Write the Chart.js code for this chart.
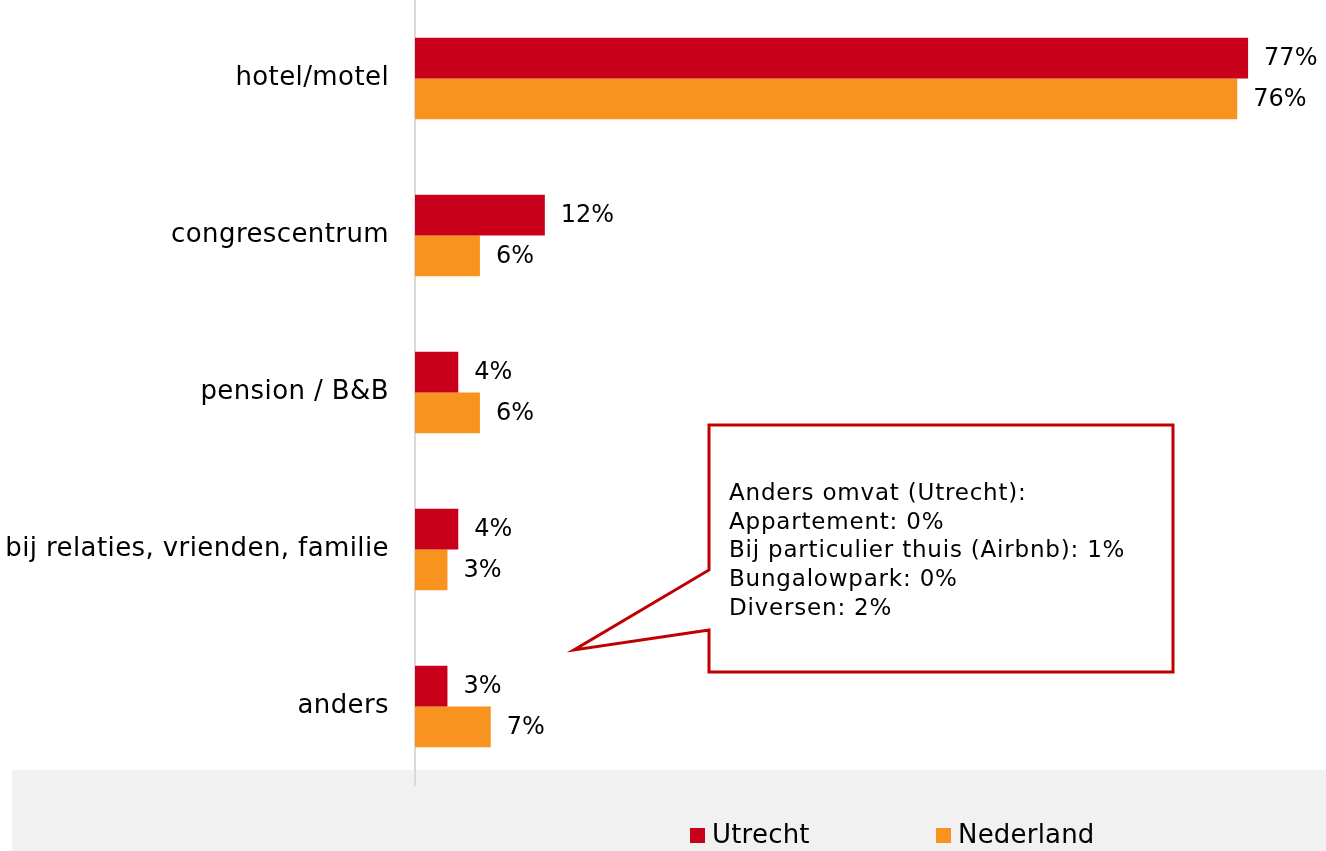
<!DOCTYPE html>
<html>
<head>
<meta charset="utf-8">
<script src="https://cdn.jsdelivr.net/npm/chart.js@4"></script>
<style>
  html, body { margin: 0; padding: 0; background: #fff; }
  #wrap { width: 1326px; height: 851px; }
</style>
</head>
<body>
<div id="wrap"><canvas id="verblijfChart" width="1326" height="851"></canvas></div>
<script>
// Categorieën en waarden (%)
const categories = ['hotel/motel', 'congrescentrum', 'pension / B&B', 'bij relaties, vrienden, familie', 'anders'];
const utrecht = [77, 12, 4, 4, 3];
const nederland = [76, 6, 6, 3, 7];
const seriesNames = ['Utrecht', 'Nederland'];
const calloutLines = [
    'Anders omvat (Utrecht):',
    'Appartement: 0%',
    'Bij particulier thuis (Airbnb): 1%',
    'Bungalowpark: 0%',
    'Diversen: 2%'
];

const FONT = '"DejaVu Sans", Verdana, sans-serif';
const RED = '#C8001A';
const ORANGE = '#F7931E';

// Grijze legenda-balk onderaan, achter de as
const backgroundPlugin = {
    id: 'bgLegend',
    beforeDraw(chart) {
        const ctx = chart.ctx;
        ctx.save();
        ctx.fillStyle = '#F1F1F1';
        ctx.fillRect(12, 770, chart.width - 12, chart.height - 770);
        ctx.restore();
        ctx.letterSpacing = '0.4px'; // iets bredere tekst (lijkt meer op Verdana)
    },
    afterDraw(chart) {
        const ctx = chart.ctx;
        ctx.save();
        ctx.font = '26px ' + FONT;
        ctx.letterSpacing = '0.2px';
        ctx.textBaseline = 'middle';
        const items = [{x: 690, c: RED}, {x: 936, c: ORANGE}];
        items.forEach((it, i) => {
            ctx.fillStyle = it.c;
            ctx.fillRect(it.x, 828, 15, 15);
            ctx.fillStyle = '#000';
            ctx.fillText(seriesNames[i], it.x + 22, 836);
        });
        ctx.restore();
    }
};

// Percentages naast de balken
const labelPlugin = {
    id: 'barLabels',
    afterDatasetsDraw(chart) {
        const ctx = chart.ctx;
        ctx.save();
        ctx.font = '24px ' + FONT;
        ctx.letterSpacing = '0px';
        ctx.fillStyle = '#000';
        ctx.textBaseline = 'middle';
        ctx.textAlign = 'left';
        chart.data.datasets.forEach((ds, di) => {
            chart.getDatasetMeta(di).data.forEach((bar, i) => {
                ctx.fillText(ds.data[i] + '%', bar.x + 16, bar.y + 1);
            });
        });
        ctx.restore();
    }
};

// Tekstballon bij "anders"
const calloutPlugin = {
    id: 'callout',
    afterDraw(chart) {
        const ctx = chart.ctx;
        ctx.save();
        ctx.strokeStyle = '#C00000';
        ctx.lineWidth = 3;
        ctx.fillStyle = '#fff';
        ctx.beginPath();
        ctx.moveTo(709, 425);
        ctx.lineTo(1173, 425);
        ctx.lineTo(1173, 672);
        ctx.lineTo(709, 672);
        ctx.lineTo(709, 630);
        ctx.lineTo(574, 650);
        ctx.lineTo(709, 570);
        ctx.closePath();
        ctx.fill();
        ctx.stroke();
        ctx.fillStyle = '#000';
        ctx.font = '23px ' + FONT;
        ctx.letterSpacing = '0.8px';
        ctx.textBaseline = 'middle';
        calloutLines.forEach((t, i) => ctx.fillText(t, 729, 494 + i * 28.7));
        ctx.restore();
    }
};

const ctxVerblijf = document.getElementById('verblijfChart').getContext('2d');

const verblijfChart = new Chart(ctxVerblijf, {
    type: 'bar',
    data: {
        labels: categories,
        datasets: [
            { label: seriesNames[0], data: utrecht, backgroundColor: RED },
            { label: seriesNames[1], data: nederland, backgroundColor: ORANGE }
        ]
    },
    options: {
        indexAxis: 'y',
        responsive: false,
        animation: false,
        devicePixelRatio: 1,
        layout: { padding: { top: 0, right: 0, bottom: 66, left: 0 } },
        datasets: {
            bar: { categoryPercentage: 0.52, barPercentage: 1 }
        },
        scales: {
            x: {
                min: 0,
                max: 84.2,
                display: false,
                grid: { display: false }
            },
            y: {
                grid: { display: false, drawTicks: false },
                border: { display: true, color: '#D9D9D9', width: 2 },
                ticks: {
                    color: '#000',
                    font: { family: FONT, size: 26 },
                    padding: 26
                },
                afterFit(scale) {
                    scale.width = 415;
                    scale.paddingTop = 0;
                    scale.paddingBottom = 0;
                }
            }
        },
        plugins: {
            legend: { display: false },
            tooltip: { enabled: false }
        }
    },
    plugins: [backgroundPlugin, labelPlugin, calloutPlugin]
});
</script>
</body>
</html>
